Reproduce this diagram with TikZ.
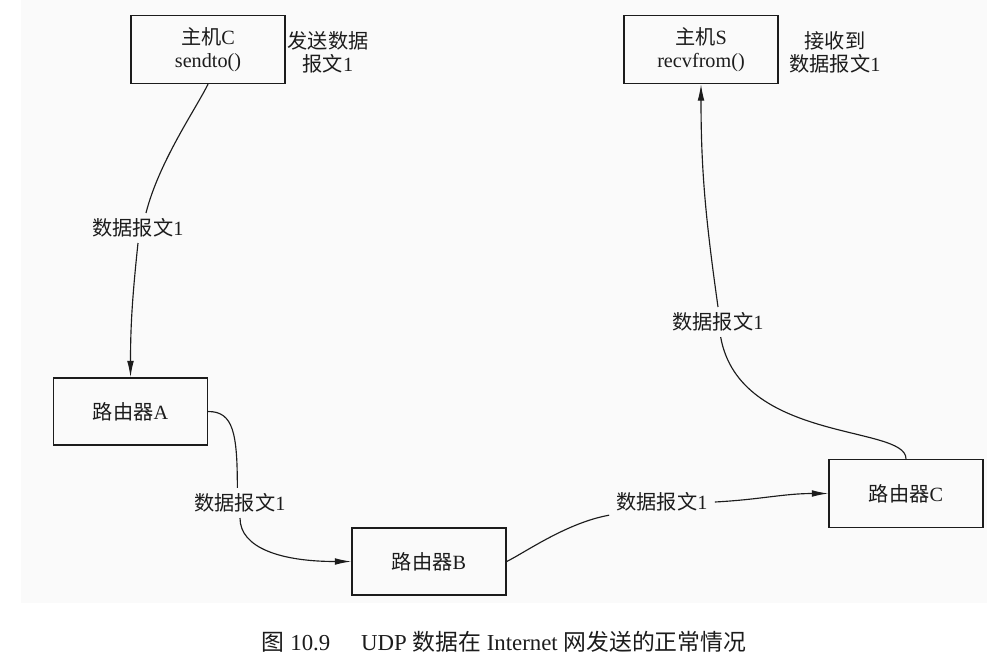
\documentclass[tikz,border=0pt]{standalone}
\usepackage{fontspec}
\setmainfont{Liberation Serif}
\newfontfamily\cjk{Noto Sans CJK SC}
\usetikzlibrary{arrows.meta}

\definecolor{paper}{HTML}{FAFAFA}
\definecolor{ink}{HTML}{1C1C1C}

\tikzset{
  box/.style={draw=ink, line width=0.85pt, minimum width=3.08cm,
    minimum height=1.36cm, align=center, text=ink,
    font=\fontsize{11.5}{13}\selectfont},
  note/.style={align=center, text=ink, font=\fontsize{11.5}{13}\selectfont},
  msg/.style={inner xsep=4pt, inner ysep=3pt, text=ink,
    font=\fontsize{11.5}{13}\selectfont},
  link/.style={draw=ink, line width=0.65pt},
  arrow/.style={link, -{Latex[length=3.3mm, width=1.35mm]}}
}

\begin{document}
\begin{tikzpicture}[x=0.02cm, y=0.02cm]
  \useasboundingbox (0, 0) rectangle (1003, -669);
  \fill[paper] (21, 0) rectangle (987, -603);

  \node[box] (hostC) at (208, -49.5) {{\cjk 主机}C\\sendto()};
  \node[box] (hostS) at (701, -49.5) {{\cjk 主机}S\\recvfrom()};
  \node[box, minimum height=1.34cm] (routerA) at (130.5, -411.5) {{\cjk 路由器}A};
  \node[box, minimum height=1.34cm] (routerB) at (429, -561.5) {{\cjk 路由器}B};
  \node[box] (routerC) at (906, -493.5) {{\cjk 路由器}C};

  \node[note] (sendnote) at (328, -52) {{\cjk 发送数据}\\{\cjk 报文}1};
  \node[note] (recvnote) at (835, -52) {{\cjk 接收到}\\{\cjk 数据报文}1};

  \node[msg] (msgCA) at (138, -228) {{\cjk 数据报文}1};
  \node[msg] (msgAB) at (240, -503) {{\cjk 数据报文}1};
  \node[msg] (msgBC) at (662, -502) {{\cjk 数据报文}1};
  \node[msg] (msgCS) at (718, -322) {{\cjk 数据报文}1};

  \draw[link] (hostC.south) .. controls +(-13, -26) and +(13, 51) .. (msgCA.62);
  \draw[arrow] (msgCA.south) to[out=-96, in=90] (routerA.north);

  \draw[link] (routerA.east) .. controls +(25, 0) and +(0, 55) .. (msgAB.100);
  \draw[arrow] (msgAB.south) .. controls +(0, -30) and +(-70, 0) .. (routerB.west);

  \draw[link] (routerB.east) .. controls +(19, 9.5) and +(-42, -7.5) .. (msgBC.194);
  \draw[arrow] (msgBC.east) to[out=3, in=180] (routerC.west);

  \draw[link] (routerC.north) .. controls +(0, 34) and +(19, -106) .. (msgCS.-80);
  \draw[arrow] (msgCS.north) to[out=98, in=-90] (hostS.south);

  \node[note, font=\fontsize{13}{15}\selectfont] (caption) at (504, -642)
    {{\cjk 图} 10.9\hspace{1.35em}UDP {\cjk 数据在} Internet {\cjk 网发送的正常情况}};
\end{tikzpicture}
\end{document}
